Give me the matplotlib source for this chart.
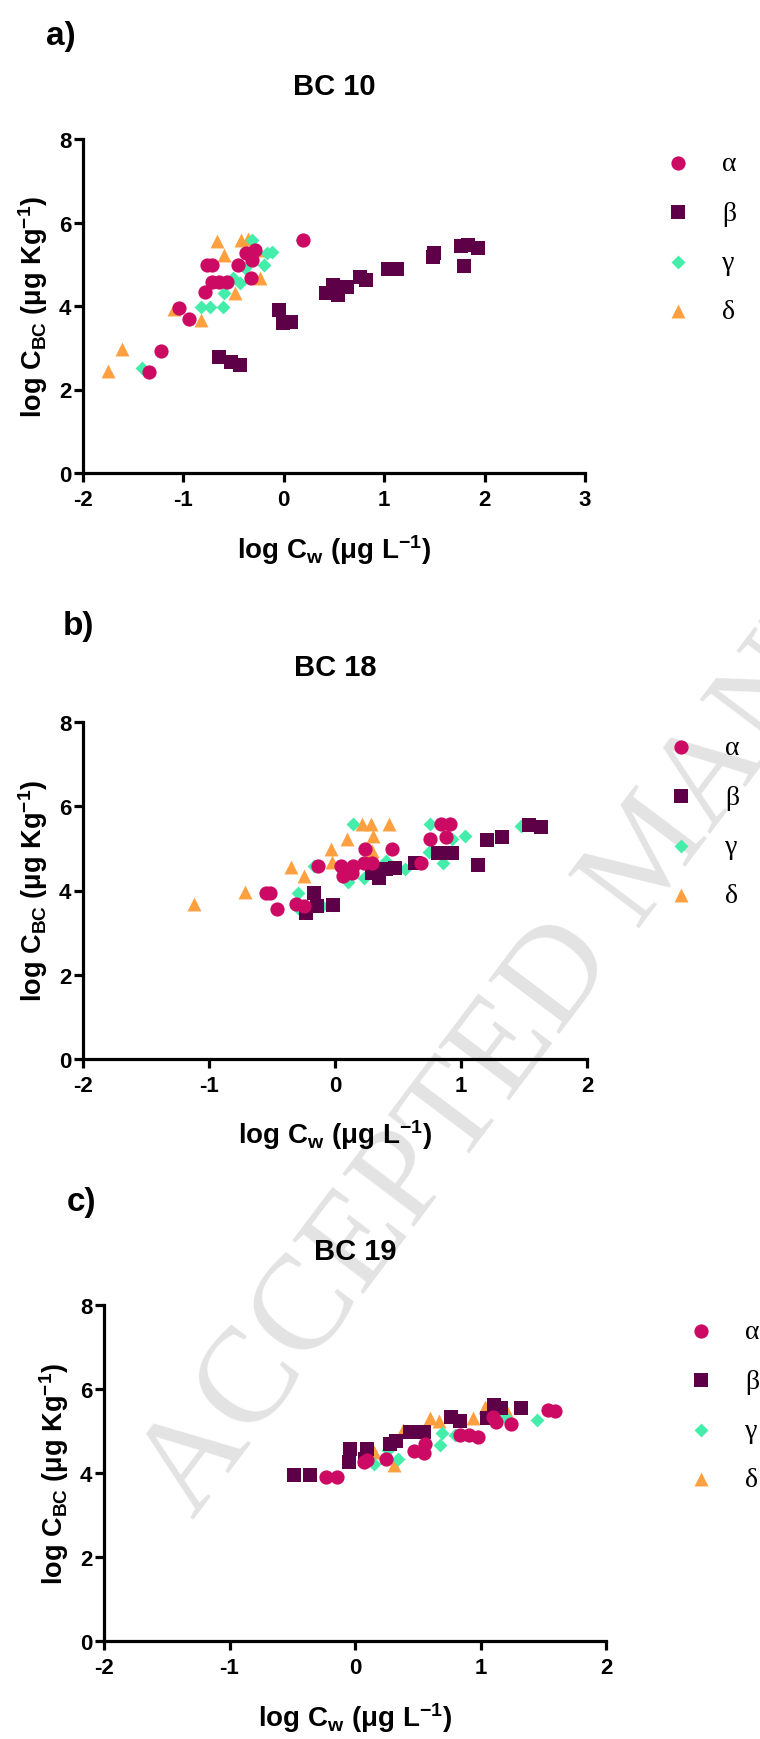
import matplotlib
matplotlib.use('Agg')
import matplotlib.pyplot as plt
from matplotlib.font_manager import FontProperties

plt.rcParams['font.family'] = ['Liberation Sans', 'DejaVu Sans']
plt.rcParams['font.weight'] = 'bold'
plt.rcParams['axes.unicode_minus'] = False
plt.rcParams['mathtext.fontset'] = 'custom'
plt.rcParams['mathtext.rm'] = 'Liberation Sans:bold'
plt.rcParams['mathtext.bf'] = 'Liberation Sans:bold'
plt.rcParams['mathtext.it'] = 'Liberation Sans:bold'
plt.rcParams['mathtext.default'] = 'rm'

# ---------------- data ----------------
series_names = ['α', 'β', 'γ', 'δ']
series_colors = ['#cc0a64', '#5e0048', '#44eeaa', '#ffa040']
series_markers = ['o', 's', 'D', '^']

# Panel a: BC 10
a_alpha_x = [-1.343, -1.226, -1.043, -0.944, -0.785, -0.768, -0.716, -0.716, -0.648, -0.562,
             -0.455, -0.372, -0.321, -0.286, -0.328, 0.195]
a_alpha_y = [2.416, 2.911, 3.963, 3.692, 4.330, 4.984, 4.984, 4.585, 4.585, 4.569,
             4.984, 5.263, 5.104, 5.343, 4.681, 5.582]
a_beta_x = [-0.641, -0.527, -0.441, -0.045, -0.011, 0.075, 0.419, 0.488, 0.540, 0.626,
            0.763, 0.815, 1.039, 1.125, 1.486, 1.496, 1.761, 1.830, 1.933, 1.796]
a_beta_y = [2.775, 2.648, 2.592, 3.907, 3.589, 3.628, 4.306, 4.506, 4.266, 4.466,
            4.705, 4.625, 4.880, 4.880, 5.183, 5.263, 5.439, 5.463, 5.383, 4.960]
a_gamma_x = [-1.412, -0.820, -0.734, -0.603, -0.596, -0.510, -0.441, -0.390, -0.321,
             -0.200, -0.166, -0.114, 0.178]
a_gamma_y = [2.512, 3.971, 3.971, 3.971, 4.322, 4.665, 4.545, 4.904, 5.582,
             4.984, 5.263, 5.303, 5.582]
a_delta_x = [-1.749, -1.611, -1.095, -0.820, -0.665, -0.596, -0.482, -0.424, -0.355,
             -0.235, -0.252]
a_delta_y = [2.432, 2.967, 3.923, 3.668, 5.566, 5.223, 4.322, 5.582, 5.598,
             4.665, 5.343]

# Panel b: BC 18
b_alpha_x = [-0.545, -0.518, -0.463, -0.312, -0.244, -0.134, 0.044, 0.063, 0.132, 0.145,
             0.241, 0.227, 0.296, 0.455, 0.679, 0.756, 0.844, 0.912, 0.879]
b_alpha_y = [3.929, 3.929, 3.549, 3.691, 3.628, 4.578, 4.578, 4.341, 4.420, 4.578,
             4.974, 4.657, 4.657, 4.974, 4.642, 5.212, 5.568, 5.568, 5.275]
b_beta_x = [-0.233, -0.170, -0.142, -0.019, 0.296, 0.351, 0.405, 0.474, 0.638, 0.816,
            0.926, 1.132, 1.208, 1.323, 1.542, 1.638]
b_beta_y = [3.469, 3.945, 3.628, 3.667, 4.420, 4.301, 4.499, 4.539, 4.657, 4.895,
            4.895, 4.602, 5.196, 5.267, 5.545, 5.505]
b_gamma_x = [-0.293, -0.293, -0.170, -0.101, 0.104, 0.145, 0.227, 0.405, 0.556, 0.756,
             0.748, 0.858, 0.926, 1.030, 1.474]
b_gamma_y = [3.945, 3.588, 4.578, 3.628, 4.198, 5.568, 4.301, 4.697, 4.499, 5.568,
             4.911, 4.642, 5.212, 5.291, 5.529]
b_delta_x = [-1.123, -0.718, -0.353, -0.244, -0.033, -0.025, 0.099, 0.214, 0.288, 0.425,
             0.304, 0.296]
b_delta_y = [3.691, 3.960, 4.562, 4.341, 4.974, 4.681, 5.212, 5.568, 5.568, 5.568,
             5.291, 4.935]

# Panel c: BC 19
c_alpha_x = [-0.230, -0.145, 0.069, 0.097, 0.245, 0.467, 0.547, 0.558, 0.837, 0.908,
             0.980, 1.102, 1.127, 1.241, 1.534, 1.591]
c_alpha_y = [3.908, 3.908, 4.265, 4.305, 4.345, 4.519, 4.488, 4.702, 4.901, 4.901,
             4.861, 5.338, 5.218, 5.163, 5.496, 5.480]
c_beta_x = [-0.486, -0.358, -0.045, -0.039, 0.092, 0.083, 0.282, 0.325, 0.439, 0.553,
            0.766, 0.837, 1.051, 1.108, 1.164, 1.321]
c_beta_y = [3.948, 3.948, 4.265, 4.583, 4.583, 4.345, 4.702, 4.758, 4.980, 4.980,
            5.338, 5.234, 5.298, 5.616, 5.552, 5.536]
c_gamma_x = [0.154, 0.339, 0.262, 0.681, 0.695, 0.795, 1.193, 1.449]
c_gamma_y = [4.226, 4.345, 4.543, 4.678, 4.964, 4.901, 5.338, 5.258]
c_delta_x = [0.311, 0.382, 0.595, 0.666, 0.937, 1.036, 1.207, 0.154]
c_delta_y = [4.186, 5.020, 5.298, 5.234, 5.314, 5.576, 5.496, 4.503]

panel_letters = ['a)', 'b)', 'c)']
panel_titles = ['BC 10', 'BC 18', 'BC 19']
x_ticks = [[-2, -1, 0, 1, 2, 3], [-2, -1, 0, 1, 2], [-2, -1, 0, 1, 2]]
y_ticks = [0, 2, 4, 6, 8]
x_label = 'log C$_{w}$ (μg L$^{-1}$)'
y_label = 'log C$_{BC}$ (μg Kg$^{-1}$)'

panels_data = [
    [(a_alpha_x, a_alpha_y), (a_beta_x, a_beta_y), (a_gamma_x, a_gamma_y), (a_delta_x, a_delta_y)],
    [(b_alpha_x, b_alpha_y), (b_beta_x, b_beta_y), (b_gamma_x, b_gamma_y), (b_delta_x, b_delta_y)],
    [(c_alpha_x, c_alpha_y), (c_beta_x, c_beta_y), (c_gamma_x, c_gamma_y), (c_delta_x, c_delta_y)],
]

# ---------------- layout (pixels) ----------------
W, H = 760, 1740
fig = plt.figure(figsize=(W / 100, H / 100), dpi=100)
fig.patch.set_facecolor('white')

def fx(x):
    return x / W

def fy(y):
    return 1 - y / H

# left, right, top, bottom of each axes in pixels
axes_px = [(83, 585, 140, 474), (83, 587, 723, 1060), (104, 606, 1306, 1642)]
letter_pos = [(61, 36), (78, 627), (82, 1202)]
title_y = [87, 668, 1252]
xlabel_y = [550, 1135, 1718]
ylabel_off = 50
legend_anchor = [(664, 152), (667, 736), (687, 1320)]

marker_sizes = [105, 105, 50, 100]
draw_order = [3, 2, 1, 0]  # delta bottom, alpha on top

# watermark
fig.text(fx(193), fy(1520), 'ACCEPTED MANUSCRIPT', rotation=53, rotation_mode='anchor',
         ha='left', va='baseline', fontsize=98, family='Liberation Serif',
         weight='normal', color='#e3e3e3', zorder=-5)

legend_font = FontProperties(family='Liberation Serif', size=20, weight='normal')

for i in range(3):
    l, r, t, b = axes_px[i]
    ax = fig.add_axes([fx(l), fy(b), (r - l) / W, (b - t) / H])
    ax.patch.set_visible(False)
    handles = [None] * 4
    for k in draw_order:
        xs, ys = panels_data[i][k]
        handles[k] = ax.scatter(xs, ys, s=marker_sizes[k], marker=series_markers[k],
                                color=series_colors[k], linewidths=0, zorder=3 + (3 - k),
                                clip_on=False)
    ax.set_xlim(x_ticks[i][0], x_ticks[i][-1])
    ax.set_ylim(0, 8)
    ax.set_xticks(x_ticks[i])
    ax.set_yticks(y_ticks)
    ax.set_xticklabels([str(v) for v in x_ticks[i]])
    ax.set_yticklabels([str(v) for v in y_ticks])
    for s in ['top', 'right']:
        ax.spines[s].set_visible(False)
    for s in ['left', 'bottom']:
        ax.spines[s].set_linewidth(2.3)
    ax.tick_params(direction='out', length=6.5, width=2.3, labelsize=16)
    ax.tick_params(axis='x', pad=5)
    ax.tick_params(axis='y', pad=2)

    cx = (l + r) / 2
    fig.text(fx(letter_pos[i][0]), fy(letter_pos[i][1]), panel_letters[i], fontsize=24,
             ha='center', va='center', weight='bold')
    fig.text(fx(cx), fy(title_y[i]), panel_titles[i], fontsize=21, ha='center',
             va='center', weight='bold')
    fig.text(fx(cx), fy(xlabel_y[i]), x_label, fontsize=20, ha='center', va='center',
             weight='bold')
    fig.text(fx(l - ylabel_off), fy((t + b) / 2), y_label, fontsize=19.5, ha='center',
             va='center', rotation=90, weight='bold')

    ax.legend(handles, series_names, loc='upper left',
              bbox_to_anchor=(fx(legend_anchor[i][0]), fy(legend_anchor[i][1])),
              bbox_transform=fig.transFigure, frameon=False, prop=legend_font,
              borderpad=0, borderaxespad=0, handlelength=1.0, handletextpad=1.08,
              labelspacing=0.86, markerscale=1.0, scatterpoints=1)

fig.savefig('out.png', dpi=100, facecolor='white')
